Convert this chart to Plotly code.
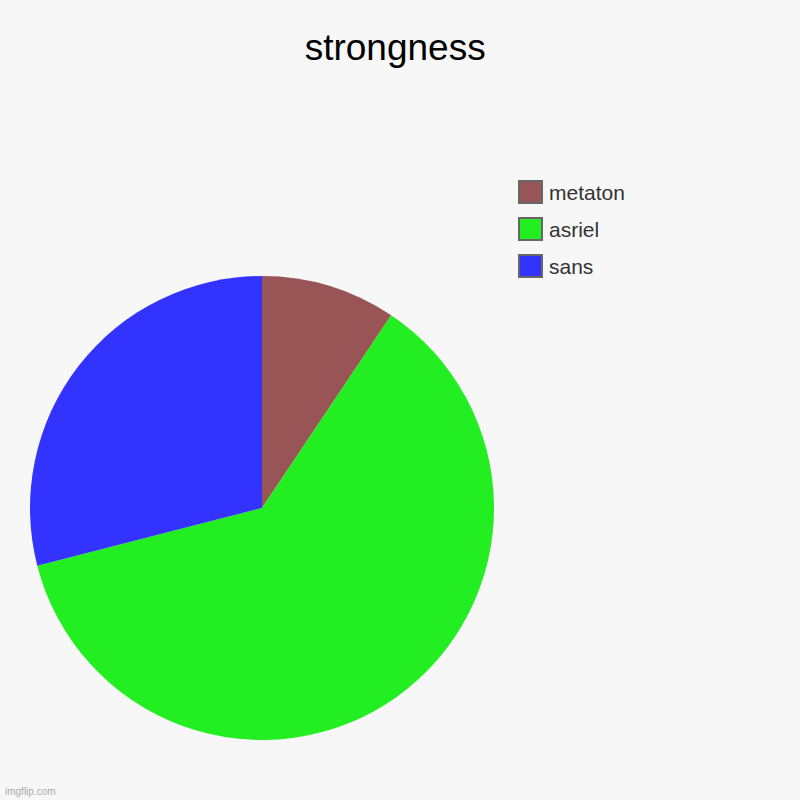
import plotly.graph_objects as go

# data
labels = ["metaton", "asriel", "sans"]
values = [9.4, 61.6, 29.0]
colors = ["#995555", "#22ee22", "#3333ff"]

W, H = 800, 800


def px_x(v):
    return v / W


def px_y(v):
    return 1 - v / H


fig = go.Figure()
fig.add_trace(go.Pie(
    labels=labels,
    values=values,
    marker=dict(colors=colors, line=dict(width=0)),
    sort=False,
    direction="clockwise",
    rotation=0,
    textinfo="none",
    hoverinfo="label+value+percent",
    showlegend=False,
    domain=dict(x=[px_x(30), px_x(494)], y=[px_y(740), px_y(276)]),
))

# legend drawn by hand so the spacing matches
shapes = []
annotations = []
for i, (lab, col) in enumerate(zip(labels, colors)):
    top = 180 + i * 37
    shapes.append(dict(
        type="rect", xref="paper", yref="paper",
        x0=px_x(519), x1=px_x(542), y0=px_y(top + 23), y1=px_y(top + 1),
        fillcolor=col, line=dict(color="#666666", width=2),
    ))
    annotations.append(dict(
        text=lab, xref="paper", yref="paper",
        x=px_x(547), y=px_y(top + 12), xanchor="left", yanchor="middle",
        showarrow=False, font=dict(size=21, color="#333333"),
    ))

annotations.append(dict(
    text="imgflip.com", xref="paper", yref="paper",
    x=px_x(3), y=px_y(791), xanchor="left", yanchor="middle",
    showarrow=False, font=dict(size=10, color="#aaaaaa"),
))

fig.update_layout(
    width=W, height=H,
    margin=dict(l=0, r=0, t=0, b=0),
    paper_bgcolor="#f7f7f7",
    plot_bgcolor="#f7f7f7",
    font=dict(family="Liberation Sans, Arial, sans-serif"),
    title=dict(text="strongness", x=0.494, y=px_y(47), xanchor="center", yanchor="middle",
               font=dict(size=37, color="#000000")),
    shapes=shapes,
    annotations=annotations,
)

fig.write_html(
    "out.html",
    config={"displayModeBar": False},
    post_script="document.body.style.margin='0';document.body.style.background='#f7f7f7';",
)
